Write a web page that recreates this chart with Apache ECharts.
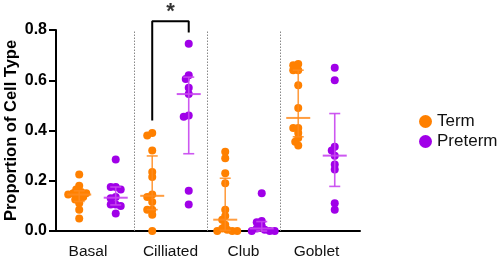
<!DOCTYPE html>
<html><head><meta charset="utf-8">
<script src="https://cdn.jsdelivr.net/npm/echarts@6/dist/echarts.min.js"></script>
<style>html,body{margin:0;padding:0;background:#fff}#c{width:498px;height:261px}</style>
</head><body><div id="c"></div>
<script>
const categories = ['Basal', 'Cilliated', 'Club', 'Goblet'];
const seriesNames = ['Term', 'Preterm'];
const yTicks = [0, 0.2, 0.4, 0.6, 0.8];

const termBasal = [0.225, 0.18, 0.165, 0.155, 0.15, 0.15, 0.145, 0.14, 0.135, 0.125, 0.11, 0.085, 0.05];
const termCilliated = [0.39, 0.38, 0.32, 0.235, 0.215, 0.145, 0.135, 0.115, 0.085, 0.085, 0.065, 0.0];
const termClub = [0.315, 0.29, 0.23, 0.19, 0.085, 0.06, 0.045, 0.025, 0.01, 0.005, 0.0, 0.0, 0.0];
const termGoblet = [0.665, 0.66, 0.64, 0.64, 0.58, 0.49, 0.41, 0.41, 0.39, 0.37, 0.355, 0.34];

const pretermBasal = [0.285, 0.175, 0.175, 0.165, 0.135, 0.13, 0.105, 0.105, 0.10, 0.07];
const pretermCilliated = [0.745, 0.62, 0.605, 0.57, 0.545, 0.46, 0.455, 0.16, 0.105];
const pretermClub = [0.15, 0.04, 0.035, 0.02, 0.01, 0.005, 0.0, 0.0, 0.0];
const pretermGoblet = [0.65, 0.60, 0.335, 0.32, 0.30, 0.265, 0.245, 0.11, 0.085];

// significance annotation (Cilliated: Term vs Preterm)
const sigCategory = 'Cilliated';
const sigLabel = '*';
const sigLevels = [0.44, 0.835, 0.79]; // left leg bottom, bracket top, right leg bottom

const termGroups = [termBasal, termCilliated, termClub, termGoblet];
const pretermGroups = [pretermBasal, pretermCilliated, pretermClub, pretermGoblet];

const COLORS = ['#FF8000', '#A000E8'];
const BAR_COLORS = ['rgba(255,140,30,0.85)', 'rgba(200,70,240,0.9)'];
const GRID = {left: 56, right: 138, top: 30, bottom: 30};
const XMIN = -0.568, XMAX = 3.596, YMAX = 0.8;
const W = 498, H = 261;
const pxX = (W - GRID.left - GRID.right) / (XMAX - XMIN);
const pxY = (H - GRID.top - GRID.bottom) / YMAX;
const SHIFT = 0.25, DIAM = 8, MINDIST = 4.8;

function swarm(values) {
  const placed = [];
  const order = values.map((v, i) => i).sort((a, b) => values[b] - values[a]);
  const offs = new Array(values.length);
  for (const i of order) {
    const y = values[i] * pxY;
    let found = 0;
    for (let k = 0; k < 60; k++) {
      const cands = k === 0 ? [0] : [-k, k];
      let ok = null;
      for (const c of cands) {
        if (placed.every(p => (p[0] - c) ** 2 + (p[1] - y) ** 2 >= MINDIST ** 2)) { ok = c; break; }
      }
      if (ok !== null) { found = ok; break; }
    }
    placed.push([found, y]);
    offs[i] = found / pxX;
  }
  return offs;
}

function quantile(vals, p) {
  const s = vals.slice().sort((a, b) => a - b);
  const n = s.length;
  let pos = (n + 1) * p;
  if (pos < 1) pos = 1;
  if (pos > n) pos = n;
  const lo = Math.floor(pos), fr = pos - lo;
  const a = s[lo - 1], b = s[Math.min(lo, n - 1)];
  return a + fr * (b - a);
}

function scatterData(groups, sign) {
  const out = [];
  groups.forEach((vals, ci) => {
    const offs = swarm(vals);
    vals.forEach((v, j) => out.push([ci + sign * SHIFT + offs[j], v]));
  });
  return out;
}
function barData(groups, sign) {
  return groups.map((vals, ci) => [ci + sign * SHIFT, quantile(vals, 0.25), quantile(vals, 0.5), quantile(vals, 0.75)]);
}
function makeRender(color) {
  return function (params, api) {
    const x = api.value(0);
    const t = api.coord([x, api.value(3)]), b = api.coord([x, api.value(1)]), m = api.coord([x, api.value(2)]);
    const cap = 5.5, mw = 12;
    const st = {stroke: color, lineWidth: 1.6};
    return {type: 'group', children: [
      {type: 'line', shape: {x1: t[0], y1: t[1], x2: b[0], y2: b[1]}, style: st},
      {type: 'line', shape: {x1: t[0] - cap, y1: t[1], x2: t[0] + cap, y2: t[1]}, style: st},
      {type: 'line', shape: {x1: b[0] - cap, y1: b[1], x2: b[0] + cap, y2: b[1]}, style: st},
      {type: 'line', shape: {x1: m[0] - mw, y1: m[1], x2: m[0] + mw, y2: m[1]}, style: {stroke: color, lineWidth: 2}}
    ]};
  };
}

const sigIdx = categories.indexOf(sigCategory);
const bracket = [
  [sigIdx - SHIFT, sigLevels[0]], [sigIdx - SHIFT, sigLevels[1]],
  [sigIdx + SHIFT, sigLevels[1]], [sigIdx + SHIFT, sigLevels[2]]
];

const FONT = '"Liberation Sans", Arial, sans-serif';
const chart = echarts.init(document.getElementById('c'), null, {renderer: 'canvas'});
chart.setOption({
  animation: false,
  backgroundColor: '#fff',
  grid: Object.assign({containLabel: false, outerBoundsMode: 'none'}, GRID),
  legend: {
    data: seriesNames, orient: 'vertical', left: 414, top: 108,
    icon: 'circle', itemWidth: 13, itemHeight: 13, itemGap: 3,
    textStyle: {fontFamily: FONT, fontSize: 17, color: '#111'}
  },
  xAxis: {
    type: 'value', min: XMIN, max: XMAX,
    axisLine: {show: true, onZero: false, lineStyle: {color: '#000', width: 2}},
    axisTick: {show: false}, splitLine: {show: false},
    axisLabel: {
      customValues: categories.map((c, i) => i === 0 ? -0.13 : i),
      formatter: v => categories[Math.max(0, Math.round(v))],
      fontFamily: FONT, fontSize: 15.5, color: '#111', margin: 13
    }
  },
  yAxis: {
    type: 'value', min: 0, max: YMAX, interval: 0.2,
    name: 'Proportion of Cell Type', nameLocation: 'middle', nameGap: 36, nameMoveOverlap: false,
    nameTextStyle: {fontFamily: FONT, fontSize: 16.5, fontWeight: 'bold', color: '#000'},
    axisLine: {show: true, onZero: false, lineStyle: {color: '#000', width: 2}},
    axisTick: {show: true, length: 7, lineStyle: {color: '#000', width: 2}},
    splitLine: {show: false},
    axisLabel: {formatter: v => v.toFixed(1), fontFamily: FONT, fontSize: 16, fontWeight: 'bold', color: '#000', margin: 9}
  },
  series: [
    {
      name: seriesNames[0], type: 'scatter', symbolSize: DIAM, itemStyle: {color: COLORS[0], opacity: 1},
      data: scatterData(termGroups, -1), z: 3,
      markLine: {
        silent: true, symbol: 'none', label: {show: false},
        lineStyle: {type: [1.5, 1.5], color: '#888', width: 1},
        data: [{xAxis: 0.5}, {xAxis: 1.5}, {xAxis: 2.5}]
      }
    },
    {
      name: seriesNames[1], type: 'scatter', symbolSize: DIAM, itemStyle: {color: COLORS[1], opacity: 1},
      data: scatterData(pretermGroups, 1), z: 3
    },
    {type: 'custom', renderItem: makeRender(BAR_COLORS[0]), data: barData(termGroups, -1), z: 4, silent: true},
    {type: 'custom', renderItem: makeRender(BAR_COLORS[1]), data: barData(pretermGroups, 1), z: 4, silent: true},
    {
      type: 'line', data: bracket, clip: false, symbol: 'none', silent: true,
      lineStyle: {color: '#000', width: 2}, z: 5
    },
    {
      type: 'scatter', clip: false, silent: true, symbolSize: 0,
      data: [[sigIdx, sigLevels[1]]],
      label: {show: true, position: 'top', distance: -2, formatter: sigLabel,
        fontFamily: FONT, fontSize: 22, fontWeight: 'bold', color: '#000'}
    }
  ]
});
</script></body></html>
